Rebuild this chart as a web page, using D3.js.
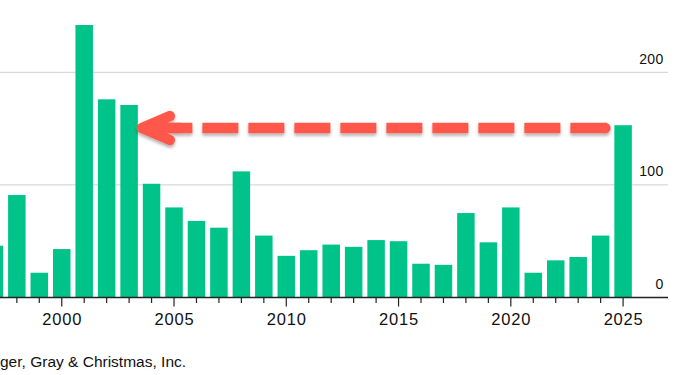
<!DOCTYPE html>
<html>
<head>
<meta charset="utf-8">
<script src="https://cdn.jsdelivr.net/npm/d3@7"></script>
<style>
  html, body { margin: 0; padding: 0; background: #fff; }
  svg { display: block; font-family: "Liberation Sans", Arial, Helvetica, sans-serif; }
</style>
</head>
<body>
<div id="chart"></div>
<script>
// Yearly values
const years = [1997, 1998, 1999, 2000, 2001, 2002, 2003, 2004, 2005, 2006, 2007, 2008, 2009, 2010,
    2011, 2012, 2013, 2014, 2015, 2016, 2017, 2018, 2019, 2020, 2021, 2022, 2023, 2024, 2025];
const values = [46, 91, 22, 43, 242, 176, 171, 101, 80, 68, 62, 112, 55, 37,
    42, 47, 45, 51, 50, 30, 29, 75, 49, 80, 22, 33, 36, 55, 153];
const yTicks = [0, 100, 200];
const xTicks = [2000, 2005, 2010, 2015, 2020, 2025];
const minorTicks = d3.range(1998, 2026);
const sourceText = 'ger, Gray & Christmas, Inc.';

const width = 700, height = 375;
const svg = d3.select('#chart').append('svg')
    .attr('width', width)
    .attr('height', height);

const x = d3.scaleLinear().domain([1997.25, 2027]).range([0, 668]);
const y = d3.scaleLinear().domain([0, 200]).range([297.5, 72.3]);
const barW = 17.5;

// Drop shadow for the arrow
const defs = svg.append('defs');
defs.append('filter')
    .attr('id', 'shadow')
    .attr('x', '-10%').attr('y', '-50%').attr('width', '120%').attr('height', '200%')
    .append('feDropShadow')
    .attr('dx', 0).attr('dy', 2.5).attr('stdDeviation', 1.5)
    .attr('flood-color', '#000').attr('flood-opacity', 0.3);

// Gridlines
svg.append('g')
    .selectAll('line')
    .data(yTicks.filter(d => d > 0))
    .enter()
    .append('line')
    .attr('x1', 0).attr('x2', 668)
    .attr('y1', d => y(d)).attr('y2', d => y(d))
    .attr('stroke', '#cfcfcf')
    .attr('stroke-width', 1);

// Y labels on the right
svg.append('g')
    .selectAll('text')
    .data(yTicks)
    .enter()
    .append('text')
    .attr('x', 663.5)
    .attr('y', d => y(d) - 8.5)
    .attr('text-anchor', 'end')
    .attr('fill', '#111')
    .style('font-size', '14px')
    .style('letter-spacing', '0.3px')
    .text(d => d);

// Bars
svg.append('g')
    .selectAll('rect')
    .data(years.map((yr, i) => ({ year: yr, value: values[i] })))
    .enter()
    .append('rect')
    .attr('x', d => x(d.year) - barW / 2)
    .attr('y', d => y(d.value))
    .attr('width', barW)
    .attr('height', d => y(0) - y(d.value))
    .attr('fill', '#00c389');

// X axis
svg.append('line')
    .attr('x1', 0).attr('x2', 668)
    .attr('y1', y(0)).attr('y2', y(0))
    .attr('stroke', '#222')
    .attr('stroke-width', 1.5);

svg.append('g')
    .selectAll('line')
    .data(minorTicks)
    .enter()
    .append('line')
    .attr('x1', d => x(d)).attr('x2', d => x(d))
    .attr('y1', y(0))
    .attr('y2', d => y(0) + (d % 5 === 0 ? 9 : 5.5))
    .attr('stroke', '#222')
    .attr('stroke-width', 1.2);

svg.append('g')
    .selectAll('text')
    .data(xTicks)
    .enter()
    .append('text')
    .attr('x', d => x(d) + 0.5)
    .attr('y', 325)
    .attr('text-anchor', 'middle')
    .attr('fill', '#111')
    .style('font-size', '16.5px')
    .style('letter-spacing', '0.8px')
    .text(d => d);

// Dashed arrow from the 2025 bar back to 2003
const arrowY = y(150.5);
const arrow = svg.append('g').attr('filter', 'url(#shadow)');
const xStart = x(2024.5) - 1.5;
const xTip = x(2003) + barW / 2 + 4;

arrow.append('line')
    .attr('x1', xStart - 4).attr('x2', xTip + 4)
    .attr('y1', arrowY).attr('y2', arrowY)
    .attr('stroke', '#ff584b')
    .attr('stroke-width', 10.5)
    .attr('stroke-dasharray', '36,10');

arrow.append('circle')
    .attr('cx', xStart - 5)
    .attr('cy', arrowY)
    .attr('r', 5.25)
    .attr('fill', '#ff584b');

arrow.append('path')
    .attr('d', `M${xTip + 28},${arrowY - 12} L${xTip},${arrowY} L${xTip + 28},${arrowY + 12}`)
    .attr('fill', 'none')
    .attr('stroke', '#ff584b')
    .attr('stroke-width', 10.5)
    .attr('stroke-linecap', 'round')
    .attr('stroke-linejoin', 'round');

arrow.append('line')
    .attr('x1', xTip + 2).attr('x2', xTip + 39)
    .attr('y1', arrowY).attr('y2', arrowY)
    .attr('stroke', '#ff584b')
    .attr('stroke-width', 10.5);

// Source
svg.append('text')
    .attr('x', 0)
    .attr('y', 367)
    .attr('fill', '#111')
    .style('font-size', '15.5px')
    .text(sourceText);
</script>
</body>
</html>
